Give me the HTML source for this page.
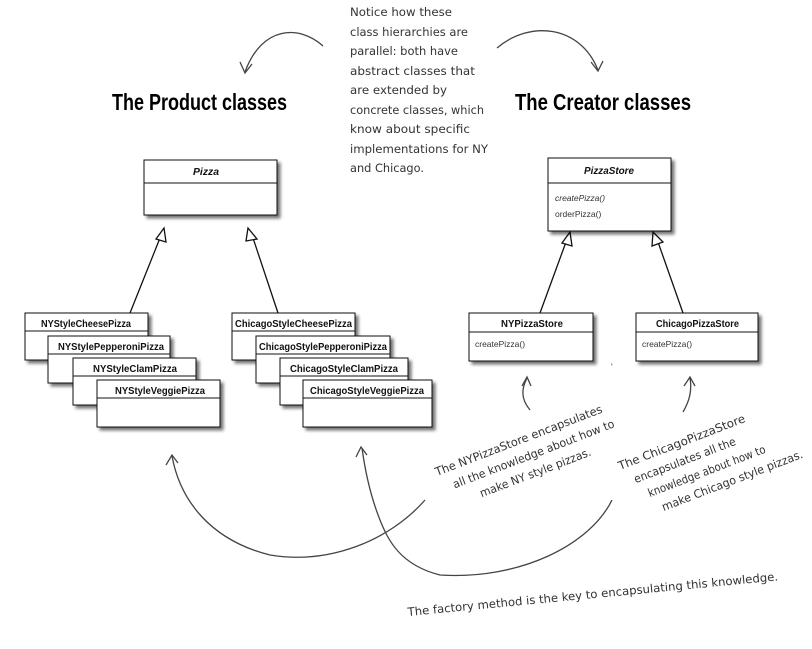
<!DOCTYPE html>
<html><head><meta charset="utf-8"><style>
html,body{margin:0;padding:0;background:#fff;}
svg{display:block;}
.b{font-family:"Liberation Sans",Arial,sans-serif;font-weight:bold;font-size:10px;fill:#111;}
.m{font-family:"Liberation Sans",Arial,sans-serif;font-size:8.5px;fill:#333;}
.h{font-family:"DejaVu Sans","Liberation Sans",sans-serif;font-size:11.5px;fill:#333;}
.t{font-family:"Liberation Sans Narrow","Liberation Sans",sans-serif;font-weight:bold;font-size:23px;fill:#000;}
</style></head><body>
<svg width="812" height="649" viewBox="0 0 812 649" xmlns="http://www.w3.org/2000/svg">
<defs>
<filter id="sh" x="-10%" y="-10%" width="130%" height="140%"><feDropShadow dx="3" dy="3" stdDeviation="1.5" flood-color="#000" flood-opacity="0.55"/></filter>
</defs>
<rect width="812" height="649" fill="#fff"/>

<text class="t" x="112" y="110" textLength="175" lengthAdjust="spacingAndGlyphs">The Product classes</text>
<text class="t" x="515" y="110" textLength="176" lengthAdjust="spacingAndGlyphs">The Creator classes</text>

<g class="h">
<text x="350" y="16" textLength="102" lengthAdjust="spacingAndGlyphs">Notice how these</text>
<text x="350" y="36" textLength="118" lengthAdjust="spacingAndGlyphs">class hierarchies are</text>
<text x="350" y="55" textLength="108" lengthAdjust="spacingAndGlyphs">parallel: both have</text>
<text x="350" y="75" textLength="125" lengthAdjust="spacingAndGlyphs">abstract classes that</text>
<text x="350" y="94" textLength="97" lengthAdjust="spacingAndGlyphs">are extended by</text>
<text x="350" y="114" textLength="134" lengthAdjust="spacingAndGlyphs">concrete classes, which</text>
<text x="350" y="133" textLength="120" lengthAdjust="spacingAndGlyphs">know about  specific</text>
<text x="350" y="153" textLength="138" lengthAdjust="spacingAndGlyphs">implementations for NY</text>
<text x="350" y="172" textLength="74" lengthAdjust="spacingAndGlyphs">and Chicago.</text>
</g>

<g fill="none" stroke="#444" stroke-width="1.3">
<path d="M323,46 C300,25 262,25 245,72"/>
<path d="M240,62 L245,73 L252,64"/>
<path d="M497,48 C530,20 580,25 598,70"/>
<path d="M591,62 L598,71 L603,61"/>
<path d="M425,500 C390,540 330,565 270,555 C210,540 180,500 172,456"/>
<path d="M166,465 L172,455 L178,463"/>
<path d="M612,500 C590,545 520,580 440,575 C400,565 388,540 380,520 C370,495 365,470 362,448"/>
<path d="M356,457 L361,447 L367,455"/>
<path d="M530,410 C520,398 522,388 527,378"/>
<path d="M522,386 L527,377 L531,386"/>
<path d="M683,412 C690,400 692,390 690,378"/>
<path d="M684,386 L690,377 L695,386"/>
</g>

<g stroke="#111" stroke-width="1.3" fill="#fff">
<line x1="130" y1="313" x2="160" y2="238"/>
<path d="M156,239 L164,228 L166,242 Z"/>
<line x1="278" y1="313" x2="253" y2="238"/>
<path d="M246,241 L248,228 L257,239 Z"/>
<line x1="540" y1="313" x2="566" y2="242"/>
<path d="M562,243 L570,232 L572,246 Z"/>
<line x1="683" y1="313" x2="658" y2="242"/>
<path d="M652,246 L653,232 L663,242 Z"/>
</g>

<g stroke="#111" stroke-width="1" fill="#fff" filter="url(#sh)">
<rect x="144" y="160" width="133" height="55"/>
<rect x="548" y="158" width="123" height="73"/>
<rect x="469" y="313" width="124" height="48"/>
<rect x="636" y="313" width="122" height="48"/>
<rect x="25" y="313" width="123" height="47"/>
<rect x="48" y="336" width="122" height="47"/>
<rect x="73" y="358" width="123" height="47"/>
<rect x="97" y="380" width="123" height="47"/>
<rect x="232" y="313" width="123" height="47"/>
<rect x="256" y="336" width="134" height="47"/>
<rect x="280" y="358" width="128" height="47"/>
<rect x="303" y="380" width="129" height="47"/>
</g>
<g stroke="#111" stroke-width="1">
<line x1="144" y1="183" x2="277" y2="183"/>
<line x1="548" y1="183" x2="671" y2="183"/>
<line x1="469" y1="332" x2="593" y2="332"/>
<line x1="636" y1="332" x2="758" y2="332"/>
<line x1="25" y1="331" x2="148" y2="331"/>
<line x1="48" y1="354" x2="170" y2="354"/>
<line x1="73" y1="376" x2="196" y2="376"/>
<line x1="97" y1="398" x2="220" y2="398"/>
<line x1="232" y1="331" x2="355" y2="331"/>
<line x1="256" y1="354" x2="390" y2="354"/>
<line x1="280" y1="376" x2="408" y2="376"/>
<line x1="303" y1="398" x2="432" y2="398"/>
</g>

<g class="b">
<text x="193" y="175" font-style="italic" textLength="26" lengthAdjust="spacingAndGlyphs">Pizza</text>
<text x="584" y="174" font-style="italic" textLength="50" lengthAdjust="spacingAndGlyphs">PizzaStore</text>
<text x="501" y="327" textLength="62" lengthAdjust="spacingAndGlyphs">NYPizzaStore</text>
<text x="656" y="327" textLength="83" lengthAdjust="spacingAndGlyphs">ChicagoPizzaStore</text>
<text x="41" y="327" textLength="90" lengthAdjust="spacingAndGlyphs">NYStyleCheesePizza</text>
<text x="58" y="350" textLength="106" lengthAdjust="spacingAndGlyphs">NYStylePepperoniPizza</text>
<text x="93" y="372" textLength="84" lengthAdjust="spacingAndGlyphs">NYStyleClamPizza</text>
<text x="115" y="394" textLength="90" lengthAdjust="spacingAndGlyphs">NYStyleVeggiePizza</text>
<text x="235" y="327" textLength="117" lengthAdjust="spacingAndGlyphs">ChicagoStyleCheesePizza</text>
<text x="259" y="350" textLength="128" lengthAdjust="spacingAndGlyphs">ChicagoStylePepperoniPizza</text>
<text x="290" y="372" textLength="108" lengthAdjust="spacingAndGlyphs">ChicagoStyleClamPizza</text>
<text x="310" y="394" textLength="114" lengthAdjust="spacingAndGlyphs">ChicagoStyleVeggiePizza</text>
</g>
<g class="m">
<text x="555" y="201" font-style="italic">createPizza()</text>
<text x="555" y="217">orderPizza()</text>
<text x="475" y="347">createPizza()</text>
<text x="642" y="347">createPizza()</text>
</g>
<text x="611" y="370" fill="#e00" font-size="9" font-family="Liberation Sans">'</text>

<g class="h" font-size="13">
<g transform="translate(437,476) rotate(-21)">
<text x="0" y="0" textLength="178" lengthAdjust="spacingAndGlyphs">The NYPizzaStore encapsulates</text>
<text x="12" y="18" textLength="172" lengthAdjust="spacingAndGlyphs">all the knowledge about how to</text>
<text x="34" y="36" textLength="118" lengthAdjust="spacingAndGlyphs">make NY style pizzas.</text>
</g>
<g transform="translate(620,470) rotate(-21)">
<text x="0" y="0" textLength="135" lengthAdjust="spacingAndGlyphs">The ChicagoPizzaStore</text>
<text x="10" y="18" textLength="108" lengthAdjust="spacingAndGlyphs">encapsulates all the</text>
<text x="18" y="36" textLength="125" lengthAdjust="spacingAndGlyphs">knowledge about how to</text>
<text x="26" y="54" textLength="150" lengthAdjust="spacingAndGlyphs">make Chicago style pizzas.</text>
</g>
<g transform="translate(408,616) rotate(-5.5)">
<text x="0" y="0" textLength="372" lengthAdjust="spacingAndGlyphs">The factory method is the key to encapsulating this knowledge.</text>
</g>
</g>
</svg>
</body></html>
